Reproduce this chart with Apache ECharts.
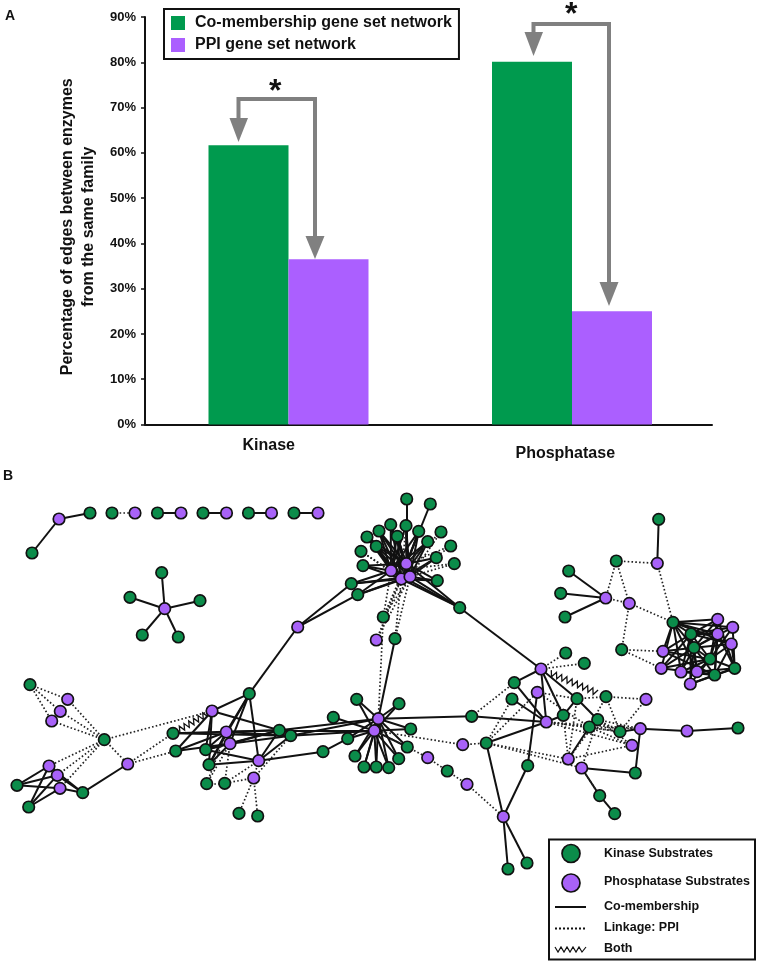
<!DOCTYPE html>
<html lang="en">
<head>
    <meta charset="UTF-8">
    <title>Gene set networks</title>
    <style>
        html, body { margin: 0; padding: 0; background: #fff; }
        #main { width: 760px; height: 964px; }
    </style>
</head>
<body>
<div id="main"></div>
<script src="https://cdn.jsdelivr.net/npm/echarts@6/dist/echarts.min.js"></script>
<script>
    // panel A
    var categories = ['Kinase', 'Phosphatase'];
    var coMembership = [61.7, 80.1];
    var ppiNetwork = [36.5, 25.0];

    // panel B: layout position of every node
    var kinaseNodes = {
        c1:[32,553], c3:[90,513], c4:[112,513], c6:[157.5,513], c8:[203,513], c10:[248.5,513], c12:[294,513],
        s1:[161.7,572.7], s2:[130,597.3], s3:[200,600.7], s4:[142.3,635], s5:[178.3,637],
        t1:[406.7,499], t2:[430.3,504], t3:[406,525.7], t4:[390.7,524.7], t5:[379,531], t6:[367,537], t7:[397.3,536.3],
        t8:[418.7,531.3], t9:[441,532], t10:[427.7,541.7], t11:[376.3,546.3], t12:[361,551.3], t13:[450.7,546],
        t14:[436.3,557.7], t15:[454.3,563.7], t16:[363,565.7], t17:[437.3,580.7], t18:[351.3,583.7], t19:[357.7,594.7],
        t20:[459.7,607.7], t21:[383.3,617], t22:[395,638.7],
        u1:[658.7,519.3], u3:[616.3,561], u4:[568.7,571], u5:[560.7,593.3], u6:[565,617], u9:[621.7,649.7], u10:[673,622.3],
        w3:[691,634], w6:[694,647.7], w8:[710,659], w10:[734.7,668.3], w13:[714.7,675],
        v0:[30,684.7], v4:[104.3,739.7], v9:[17,785.3], v10:[82.7,792.7], v11:[28.7,807],
        e2:[249.3,693.7], e3:[173,733.3], e5:[279.3,730.3], e6:[290.7,735.7], e7:[175.7,751], e9:[205.7,749.7],
        e10:[209,764.7], e13:[206.7,783.7], e14:[224.7,783.3], e15:[239,813.3], e16:[257.7,816],
        m1:[356.7,699.3], m2:[399,703.7], m3:[333.3,717.3], m4:[410.7,729], m5:[347.7,738.7], m6:[407.3,747], m7:[323,751.7],
        m8:[355,756], m9:[398.7,758.7], m10:[364,767], m11:[376.3,767], m12:[388.7,767.7], n2:[447.3,771],
        q2:[565.7,653], q3:[584.3,663.3], q4:[514.3,682.7], q6:[512,699], q7:[577,698.7], q8:[606,696.7], q11:[563.3,715.3],
        q12:[597.7,719.7], q13:[589.3,727], q15:[620,731.7], q17:[486.3,743], q20:[527.7,765.7], q21:[635.3,773],
        q22:[599.7,795.7], q23:[614.7,813.7], q25:[471.7,716.3], q28:[738,728], q29:[508,869], q30:[527,863]
    };
    var phosphataseNodes = {
        c2:[59,519], c5:[135,513], c7:[181,513], c9:[226.5,513], c11:[271.5,513], c13:[318,513],
        s0:[164.7,608.7],
        h1:[391,570.7], h2:[406.3,563.7], h3:[401.3,579], h4:[410,576.7], t23:[376.3,640], t24:[297.7,627],
        u2:[657.3,563.3], u7:[605.7,598], u8:[629.3,603.3],
        w1:[717.7,619.3], w2:[732.7,627.3], w4:[717.7,634], w5:[731.3,644], w7:[663,651.3], w9:[661.3,668.3],
        w11:[681,672], w12:[697,671.7], w14:[690.3,684],
        v1:[67.7,699.3], v2:[60.3,711.3], v3:[51.7,721], v5:[127.7,764], v6:[49,766], v7:[57.3,775.3], v8:[60,788.3],
        e1:[212,711], e4:[226.3,732], e8:[230,743.7], e11:[258.7,760.7], e12:[253.7,778],
        p1:[378.3,718.7], p2:[374.3,730.7], n1:[427.7,757.7], n3:[467,784.3],
        q1:[541,669], q5:[537.3,692.3], q9:[646,699.3], q10:[546.3,722], q14:[640.3,728.7], q16:[632,745.3],
        q18:[568.3,759], q19:[581.7,768], q24:[503.3,816.7], q26:[462.7,744.7], q27:[687,731]
    };

    // edges, listed per node
    var coLinks = {
        c2:['c1','c3'], c6:['c7'], c8:['c9'], c10:['c11'], c12:['c13'],
        s0:['s1','s2','s3','s4','s5'],
        h1:['t3','t4','t5','t6','t7','t8','t10','t11','t16','t18','t19','t20'],
        h2:['t1','t2','t3','t4','t5','t6','t7','t8','t10','t11','t14','t16','t17','t20'],
        h3:['t4','t5','t6','t7','t8','t10','t11','t14','t16','t17','t18','t19','t20'],
        h4:['t3','t4','t5','t7','t8','t10','t11','t14','t17','t18','t19','t20'],
        t24:['t18','t19','e2'], t20:['q1'], t22:['p1'],
        u1:['u2'], u7:['u4','u5','u6'],
        u10:['w1','w2','w3','w4','w5','w6','w7','w9','w11','w12'],
        w3:['w1','w2','w4','w5','w7','w8','w9','w11','w12','w14'],
        w6:['w1','w2','w4','w5','w7','w8','w9','w11','w12','w13','w14'],
        w8:['w1','w2','w4','w5','w7','w9','w10','w11','w12','w14'],
        w10:['w1','w2','w4','w5','w12','w13','w14'],
        w13:['w1','w4','w5','w7','w9','w11','w12','w14'],
        v9:['v6','v7','v8'], v11:['v6','v7','v8'], v10:['v5','v6','v7','v8'],
        e2:['e1','e4','e8','e10','e11'], e1:['e5','e7','e9','e10'],
        e3:['e5','e6'], e7:['e4','e8'], e9:['e4','e8','e5','e11'], e10:['e4','e8','e11'],
        e11:['e5','e6','m7'], e8:['e5','e6'], e4:['e5','e6'],
        p1:['e5','e6','m1','m2','m4','m5','m6','m9','m10','m11','m12','m8','q25'],
        p2:['e5','e6','m2','m3','m4','m5','m6','m8','m9','m10','m11','m12','m1'],
        m7:['m5'],
        q1:['q4','q7','q10','q11'], q10:['q4','q6','q11','q17','q25'], q5:['q20'], q11:['q7'], q7:['q12'],
        q13:['q18'], q19:['q21','q22'], q22:['q23'], q14:['q15','q27','q21'], q27:['q28'],
        q24:['q17','q20','q29','q30']
    };
    var ppiLinks = {
        c4:['c5'],
        t9:['h2','h4'], t13:['h2','h4'], t15:['h1','h4'], t12:['h1','h3'], t3:['h3'],
        t21:['h1','h2','h3','h4','p1'], t22:['h3','h4'], t23:['h3','h4'],
        u3:['u2','u7','u8'], u7:['u8'], u8:['u9','u10'], u2:['u10'], u9:['w7','w9'],
        v0:['v1','v2','v3'], v4:['v1','v2','v3','v5','v6','v7','v8','e1'], v5:['e3','e7'],
        e4:['e13'], e8:['e13','e14'], e11:['e14','e12'], e12:['e14','e15','e16','e6'], e13:['e14'],
        p2:['q26','m6'], q26:['q17'], m6:['n1'], n1:['n2'], n2:['n3'], n3:['q24'],
        q1:['q2','q3'], q25:['q4'], q17:['q5','q18','q19','q6'], q5:['q7','q13'], q7:['q8','q18'],
        q8:['q9','q15','q13'], q9:['q15'], q10:['q13','q14','q15','q16'], q13:['q14','q15','q16'],
        q12:['q14','q15','q16','q19'], q18:['q11','q12','q16'], q19:['q22']
    };
    var bothLinks = [['e1', 'e3'], ['q1', 'q8']];

    var bothTrim = [0.14, 0.14];

    var GREEN = '#009a4e', PURPLE = '#ab5fff', GRAY = '#808080';
    var NODE_GREEN = '#0b8c4a', NODE_PURPLE = '#a862f8';
    var FONT = '"Liberation Sans", Arial, sans-serif';

    function allNodes() {
        var out = [];
        Object.keys(kinaseNodes).forEach(function (k) {
            out.push({name: k, value: kinaseNodes[k], itemStyle: {color: NODE_GREEN}});
        });
        Object.keys(phosphataseNodes).forEach(function (k) {
            out.push({name: k, value: phosphataseNodes[k], itemStyle: {color: NODE_PURPLE}});
        });
        return out;
    }

    function buildLinks(table, style) {
        var out = [];
        Object.keys(table).forEach(function (a) {
            table[a].forEach(function (b) {
                out.push({source: a, target: b, lineStyle: style});
            });
        });
        return out;
    }

    function lookup(k) {
        return kinaseNodes[k] || phosphataseNodes[k];
    }

    var bothData = bothLinks.map(function (l) {
        var a = lookup(l[0]), b = lookup(l[1]);
        return [a[0], a[1], b[0], b[1]];
    });

    // saw-tooth between two nodes for the "both" edge type
    function renderBoth(params, api) {
        var a = api.coord([api.value(0), api.value(1)]);
        var b = api.coord([api.value(2), api.value(3)]);
        var dx = b[0] - a[0], dy = b[1] - a[1];
        var len = Math.sqrt(dx * dx + dy * dy);
        var nx = -dy / len, ny = dx / len;
        var n = Math.round(len * 0.72 / 2.8);
        var pts = [];
        for (var i = 0; i <= n; i++) {
            var t = bothTrim[0] + (1 - bothTrim[0] - bothTrim[1]) * i / n;
            var off = i % 2 ? 3 : -3;
            pts.push([a[0] + dx * t + nx * off, a[1] + dy * t + ny * off]);
        }
        return {
            type: 'polyline',
            shape: {points: pts},
            style: {stroke: '#111', lineWidth: 1.3, fill: null}
        };
    }

    var chart = echarts.init(document.getElementById('main'));
    var option = {
        animation: false,
        backgroundColor: '#fff',
        textStyle: {fontFamily: FONT},
        legend: {
            left: 164, top: 9,
            orient: 'vertical',
            data: ['Co-membership gene set network', 'PPI gene set network'],
            selectedMode: false,
            icon: 'rect',
            itemWidth: 14, itemHeight: 14, itemGap: 6,
            padding: [6, 7, 6, 7],
            borderColor: '#111', borderWidth: 2, borderRadius: 0,
            textStyle: {color: '#111', fontSize: 16, fontWeight: 'bold', fontFamily: FONT, padding: [0, 0, 0, 5]}
        },
        grid: [
            {left: 145, top: 17, width: 567, height: 407.5},
            {left: 0, top: 0, width: 760, height: 964}
        ],
        xAxis: [
            {
                type: 'category',
                data: categories,
                axisLine: {lineStyle: {color: '#111', width: 2}},
                axisTick: {length: 5, lineStyle: {color: '#111', width: 1.5}},
                axisLabel: {
                    margin: 13,
                    formatter: function (v) {
                        return v === 'Kinase' ? '{a|' + v + '}' : '{b|' + v + '}';
                    },
                    rich: {
                        a: {fontSize: 16, fontWeight: 'bold', color: '#111', fontFamily: FONT, padding: [0, 36, 0, 0]},
                        b: {fontSize: 16, fontWeight: 'bold', color: '#111', fontFamily: FONT, padding: [8, 10, 0, 0]}
                    }
                }
            },
            {type: 'value', gridIndex: 1, min: 0, max: 760, show: false}
        ],
        yAxis: [
            {
                type: 'value',
                min: 0, max: 90, interval: 10,
                name: 'Percentage of edges between enzymes\nfrom the same family',
                nameLocation: 'middle',
                nameRotate: 90,
                nameGap: 46,
                nameTextStyle: {color: '#111', fontSize: 16, fontWeight: 'bold', fontFamily: FONT, lineHeight: 21, padding: [0, 12, 0, 0]},
                axisLine: {show: true, lineStyle: {color: '#111', width: 2}},
                axisTick: {show: true, length: 4, lineStyle: {color: '#111', width: 1.5}},
                axisLabel: {formatter: '{value}%', margin: 9, color: '#111', fontSize: 13, fontWeight: 'bold', fontFamily: FONT},
                splitLine: {show: false}
            },
            {type: 'value', gridIndex: 1, min: 0, max: 964, inverse: true, show: false}
        ],
        graphic: [
            {type: 'text', left: 5, top: 9, style: {text: 'A', font: 'bold 14px ' + FONT, fill: '#111'}},
            {type: 'text', left: 3, top: 469, style: {text: 'B', font: 'bold 14px ' + FONT, fill: '#111'}},
            // significance brackets
            {type: 'polyline', shape: {points: [[238.5, 122], [238.5, 99], [315, 99], [315, 240]]}, style: {stroke: GRAY, lineWidth: 4, fill: null}, z: 5},
            {type: 'polygon', shape: {points: [[229.5, 118], [248, 118], [238.5, 142]]}, style: {fill: GRAY}, z: 5},
            {type: 'polygon', shape: {points: [[305.5, 236], [324.5, 236], [315, 259]]}, style: {fill: GRAY}, z: 5},
            {type: 'text', left: 269, top: 76, style: {text: '*', font: 'bold 32px ' + FONT, fill: '#111'}, z: 5},
            {type: 'polyline', shape: {points: [[533.5, 35], [533.5, 24], [609, 24], [609, 285]]}, style: {stroke: GRAY, lineWidth: 4, fill: null}, z: 5},
            {type: 'polygon', shape: {points: [[524.5, 32], [543, 32], [533.5, 56]]}, style: {fill: GRAY}, z: 5},
            {type: 'polygon', shape: {points: [[599.5, 282], [618.5, 282], [609, 306]]}, style: {fill: GRAY}, z: 5},
            {type: 'text', left: 565, top: -1, style: {text: '*', font: 'bold 32px ' + FONT, fill: '#111'}, z: 5},
            // network legend
            {type: 'rect', shape: {x: 549, y: 839.5, width: 206, height: 120}, style: {stroke: '#111', lineWidth: 2, fill: '#fff'}, z: 5},
            {type: 'circle', shape: {cx: 571, cy: 853.5, r: 9}, style: {fill: NODE_GREEN, stroke: '#111', lineWidth: 1.7}, z: 6},
            {type: 'circle', shape: {cx: 571, cy: 883, r: 9}, style: {fill: NODE_PURPLE, stroke: '#111', lineWidth: 1.7}, z: 6},
            {type: 'line', shape: {x1: 555, y1: 907, x2: 586, y2: 907}, style: {stroke: '#111', lineWidth: 2}, z: 6},
            {type: 'line', shape: {x1: 555, y1: 928.5, x2: 586, y2: 928.5}, style: {stroke: '#111', lineWidth: 2, lineDash: [2, 2]}, z: 6},
            {
                type: 'polyline',
                shape: {points: [[555, 947], [558, 952], [561, 947], [564, 952], [567, 947], [570, 952], [573, 947], [576, 952], [579, 947], [582, 952], [586, 947]]},
                style: {stroke: '#111', lineWidth: 1.2, fill: null},
                z: 6
            },
            {type: 'text', left: 604, top: 847, z: 6, style: {text: 'Kinase Substrates', font: 'bold 12.5px ' + FONT, fill: '#111'}},
            {type: 'text', left: 604, top: 875.5, z: 6, style: {text: 'Phosphatase Substrates', font: 'bold 12.5px ' + FONT, fill: '#111'}},
            {type: 'text', left: 604, top: 900, z: 6, style: {text: 'Co-membership', font: 'bold 12.5px ' + FONT, fill: '#111'}},
            {type: 'text', left: 604, top: 921.5, z: 6, style: {text: 'Linkage: PPI', font: 'bold 12.5px ' + FONT, fill: '#111'}},
            {type: 'text', left: 604, top: 942.5, z: 6, style: {text: 'Both', font: 'bold 12.5px ' + FONT, fill: '#111'}}
        ],
        series: [
            // empty spacer, nudges the bar pairs right of the category centre as in the original
            {name: 'spacer', type: 'bar', data: [], barWidth: 3.5, barGap: 0, silent: true},
            {
                name: 'Co-membership gene set network',
                type: 'bar',
                data: coMembership,
                barWidth: 80,
                barGap: 0,
                itemStyle: {color: GREEN},
                silent: true
            },
            {
                name: 'PPI gene set network',
                type: 'bar',
                data: ppiNetwork,
                barWidth: 80,
                barGap: 0,
                itemStyle: {color: PURPLE},
                silent: true
            },
            {
                type: 'custom',
                coordinateSystem: 'cartesian2d',
                xAxisIndex: 1, yAxisIndex: 1,
                data: bothData,
                renderItem: renderBoth,
                silent: true,
                z: 1
            },
            {
                type: 'graph',
                coordinateSystem: 'cartesian2d',
                xAxisIndex: 1, yAxisIndex: 1,
                layout: 'none',
                symbol: 'circle',
                symbolSize: 11.5,
                silent: true,
                itemStyle: {borderColor: '#111', borderWidth: 1.7, opacity: 1},
                data: allNodes(),
                links: buildLinks(coLinks, {color: '#111', width: 2, opacity: 1, curveness: 0})
                    .concat(buildLinks(ppiLinks, {color: '#222', width: 1.7, type: [1.6, 2.2], opacity: 1, curveness: 0})),
                z: 2
            }
        ]
    };
    chart.setOption(option);
</script>
</body>
</html>
